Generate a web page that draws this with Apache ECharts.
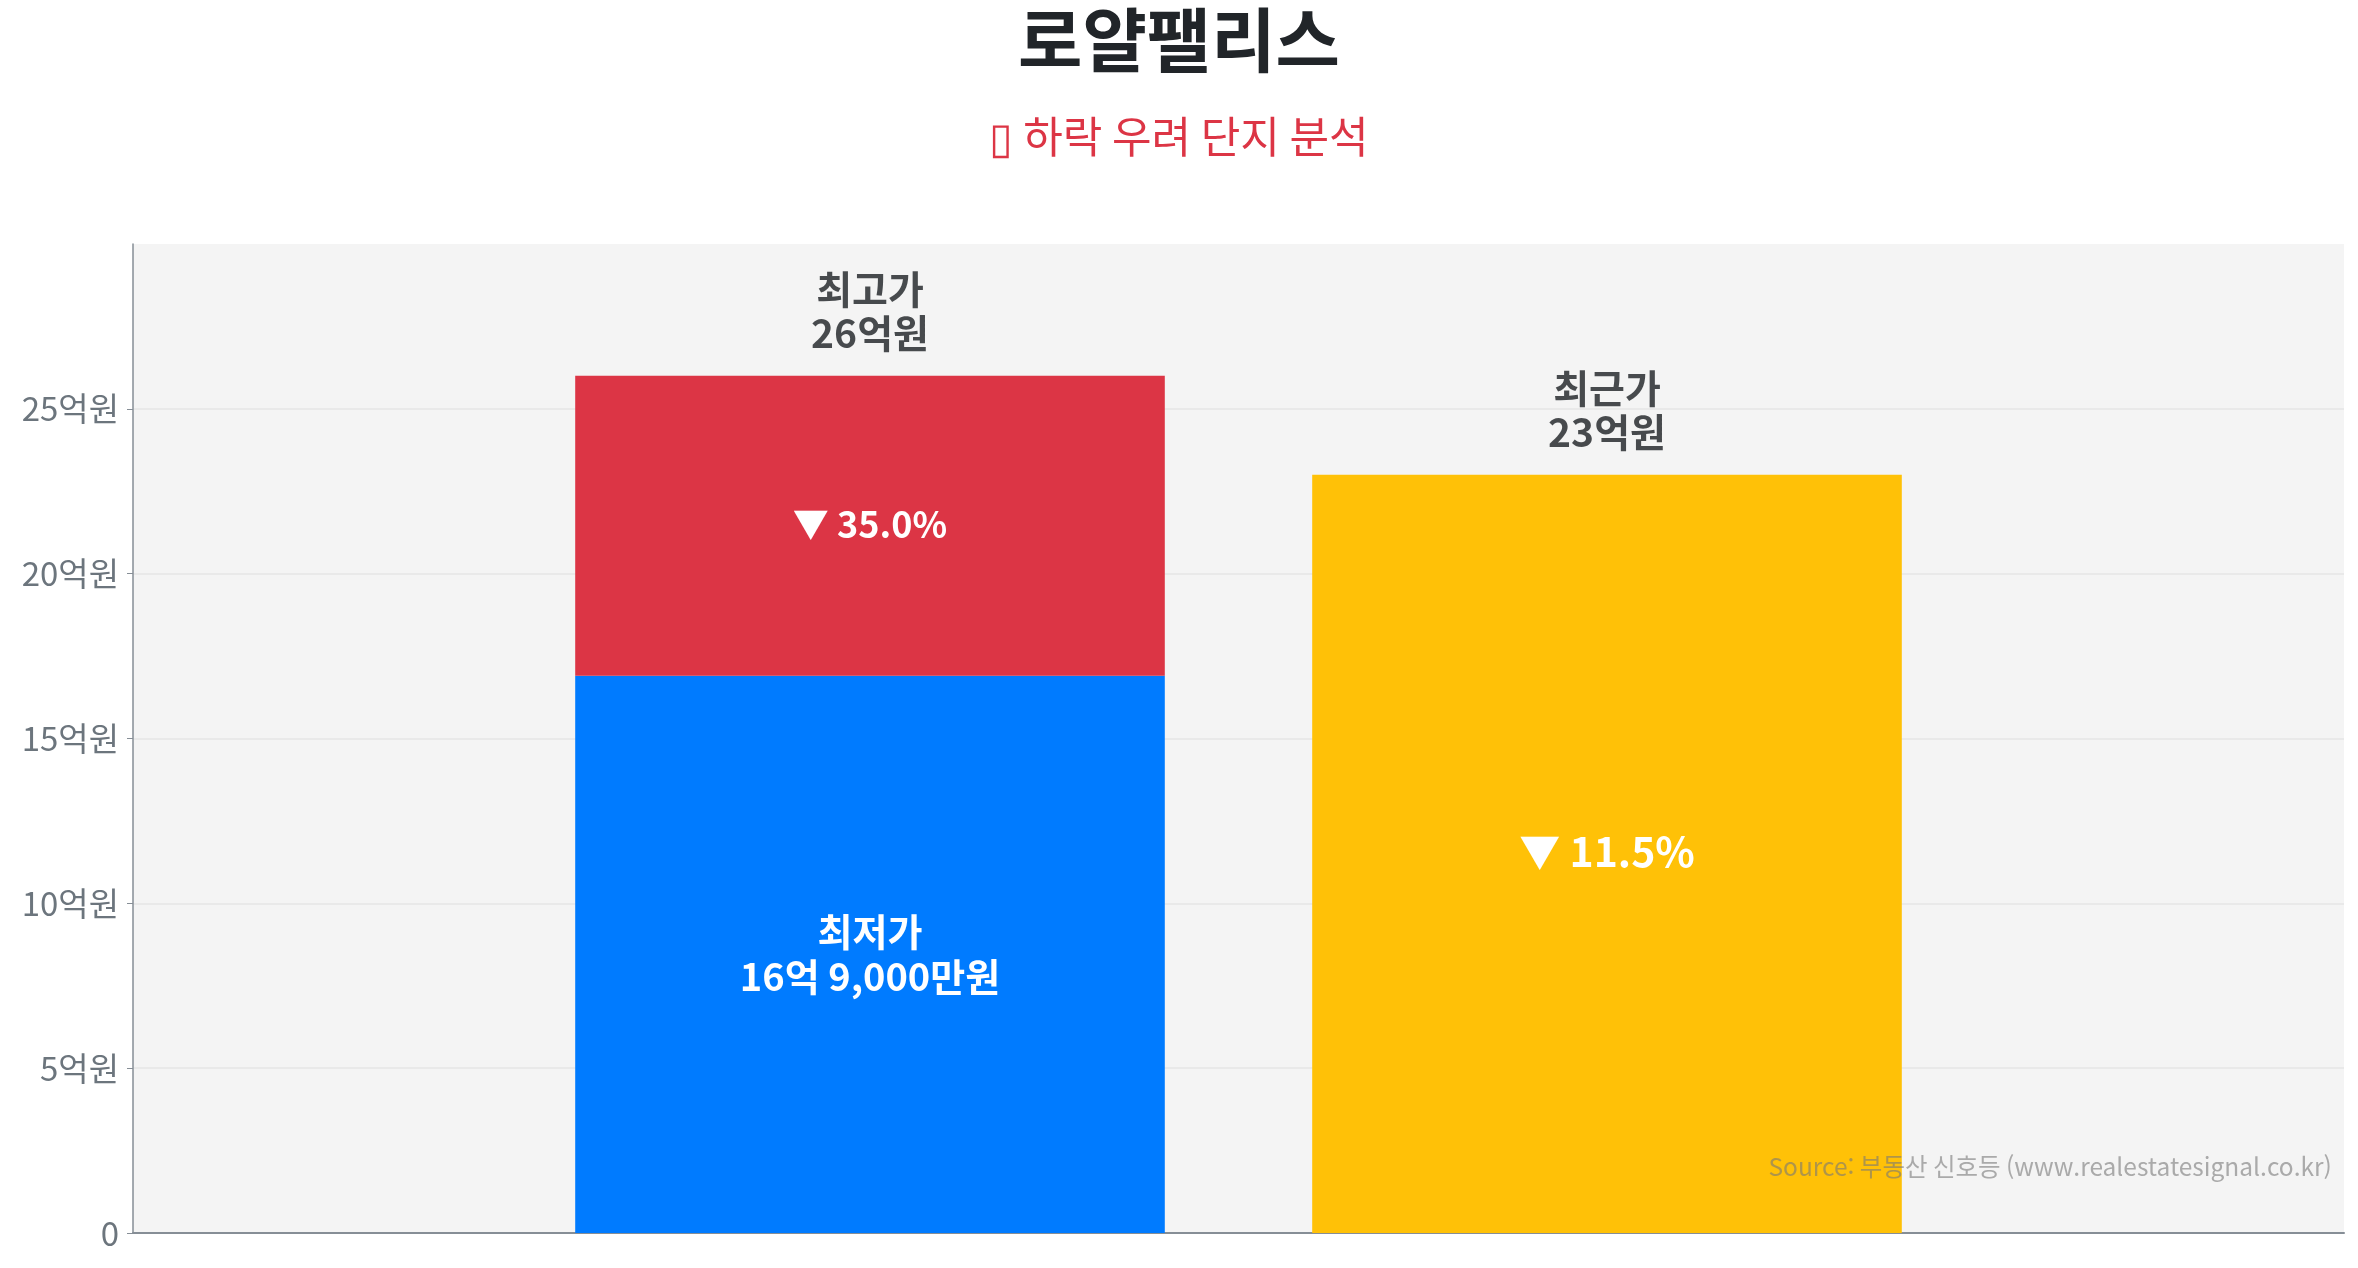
<!DOCTYPE html>
<html lang="ko">
<head>
<meta charset="utf-8">
<title>로얄팰리스</title>
<script src="https://cdn.jsdelivr.net/npm/echarts@6/dist/echarts.min.js"></script>
<style>
  html, body { margin: 0; padding: 0; background: #ffffff; }
  #chart { width: 2358px; height: 1268px; }
</style>
</head>
<body>
<div id="chart"></div>
<script>
// empty slots at both ends keep the two bars where the original put them
const categories = ["", "최고가", "최근가", ""];
const lowestPrice = [null, 16.9, null, null];
const peakGap = [null, 9.1, null, null];
const recentPrice = [null, null, 23, null];
const topPrice = [null, 26, 23, null];
const topLabels = ["", "최고가\n26억원", "최근가\n23억원", ""];
const dropLabels = ["", "▼ 35.0%", "▼ 11.5%", ""];
const lowestLabel = "최저가\n16억 9,000만원";
const yTicks = [0, 5, 10, 15, 20, 25, 30];

const FONT = '"Noto Sans CJK KR", "Noto Sans", sans-serif';
const AXIS_COLOR = "#868e96";

const chart = echarts.init(document.getElementById("chart"));

chart.setOption({
  backgroundColor: "#ffffff",
  animation: false,
  textStyle: { fontFamily: FONT },
  title: [
    {
      text: "로얄팰리스",
      left: "center",
      top: 0,
      textStyle: { fontFamily: FONT, fontSize: 70, fontWeight: "bold", color: "#212529" },
    },
    {
      text: "▯ 하락 우려 단지 분석",
      left: "center",
      top: 110,
      textStyle: { fontFamily: FONT, fontSize: 43, fontWeight: "normal", color: "#dc3545" },
    },
  ],
  grid: {
    left: 133,
    right: 14,
    top: 244,
    bottom: 35,
    show: true,
    backgroundColor: "#f4f4f4",
    borderWidth: 0,
  },
  xAxis: {
    type: "category",
    data: categories,
    boundaryGap: false,
    axisLine: { show: true, lineStyle: { color: AXIS_COLOR, width: 2 } },
    axisTick: { show: false },
    axisLabel: { show: false },
    splitLine: { show: false },
  },
  yAxis: {
    type: "value",
    min: yTicks[0],
    max: yTicks[yTicks.length - 1],
    interval: 5,
    axisLine: { show: true, lineStyle: { color: AXIS_COLOR, width: 1.5 } },
    axisTick: { show: true, length: 6, lineStyle: { color: AXIS_COLOR } },
    axisLabel: {
      color: "#6c757d",
      fontSize: 33,
      fontFamily: FONT,
      margin: 14,
      showMaxLabel: false,
      formatter: (v) => (v === 0 ? "0" : v + "억원"),
    },
    splitLine: { show: true, showMaxLine: false, lineStyle: { color: "#e6e6e6", width: 1.5 } },
  },
  series: [
    {
      name: "최저가",
      type: "bar",
      stack: "price",
      barWidth: "80%",
      data: lowestPrice,
      itemStyle: { color: "#007bff" },
      label: {
        show: true,
        position: "inside",
        formatter: () => lowestLabel,
        color: "#ffffff",
        fontFamily: FONT,
        fontSize: 38,
        fontWeight: "bold",
        lineHeight: 45,
      },
    },
    {
      name: "하락폭",
      type: "bar",
      stack: "price",
      barWidth: "80%",
      data: peakGap,
      itemStyle: { color: "#dc3545" },
      label: {
        show: true,
        position: "inside",
        offset: [0, -2],
        formatter: (p) => dropLabels[p.dataIndex],
        color: "#ffffff",
        fontFamily: FONT,
        fontSize: 36,
        fontWeight: "bold",
      },
    },
    {
      name: "최근가",
      type: "bar",
      stack: "price",
      barWidth: "80%",
      data: recentPrice,
      itemStyle: { color: "#ffc107" },
      label: {
        show: true,
        position: "inside",
        offset: [0, -2],
        formatter: (p) => dropLabels[p.dataIndex],
        color: "#ffffff",
        fontFamily: FONT,
        fontSize: 41,
        fontWeight: "bold",
      },
    },
    {
      // price captions above each bar
      name: "라벨",
      type: "scatter",
      data: topPrice,
      symbolSize: 0,
      silent: true,
      z: 5,
      label: {
        show: true,
        position: "top",
        distance: 21,
        formatter: (p) => topLabels[p.dataIndex],
        color: "#1c1f23",
        fontFamily: FONT,
        fontSize: 39,
        fontWeight: "bold",
        lineHeight: 44,
      },
    },
  ],
  graphic: [
    {
      type: "text",
      right: 28,
      top: 1154,
      z: 100,
      style: {
        text: "Source: 부동산 신호등 (www.realestatesignal.co.kr)",
        fontFamily: FONT,
        fontSize: 24.5,
        fill: "rgba(120,120,120,0.6)",
      },
    },
  ],
});
</script>
</body>
</html>
